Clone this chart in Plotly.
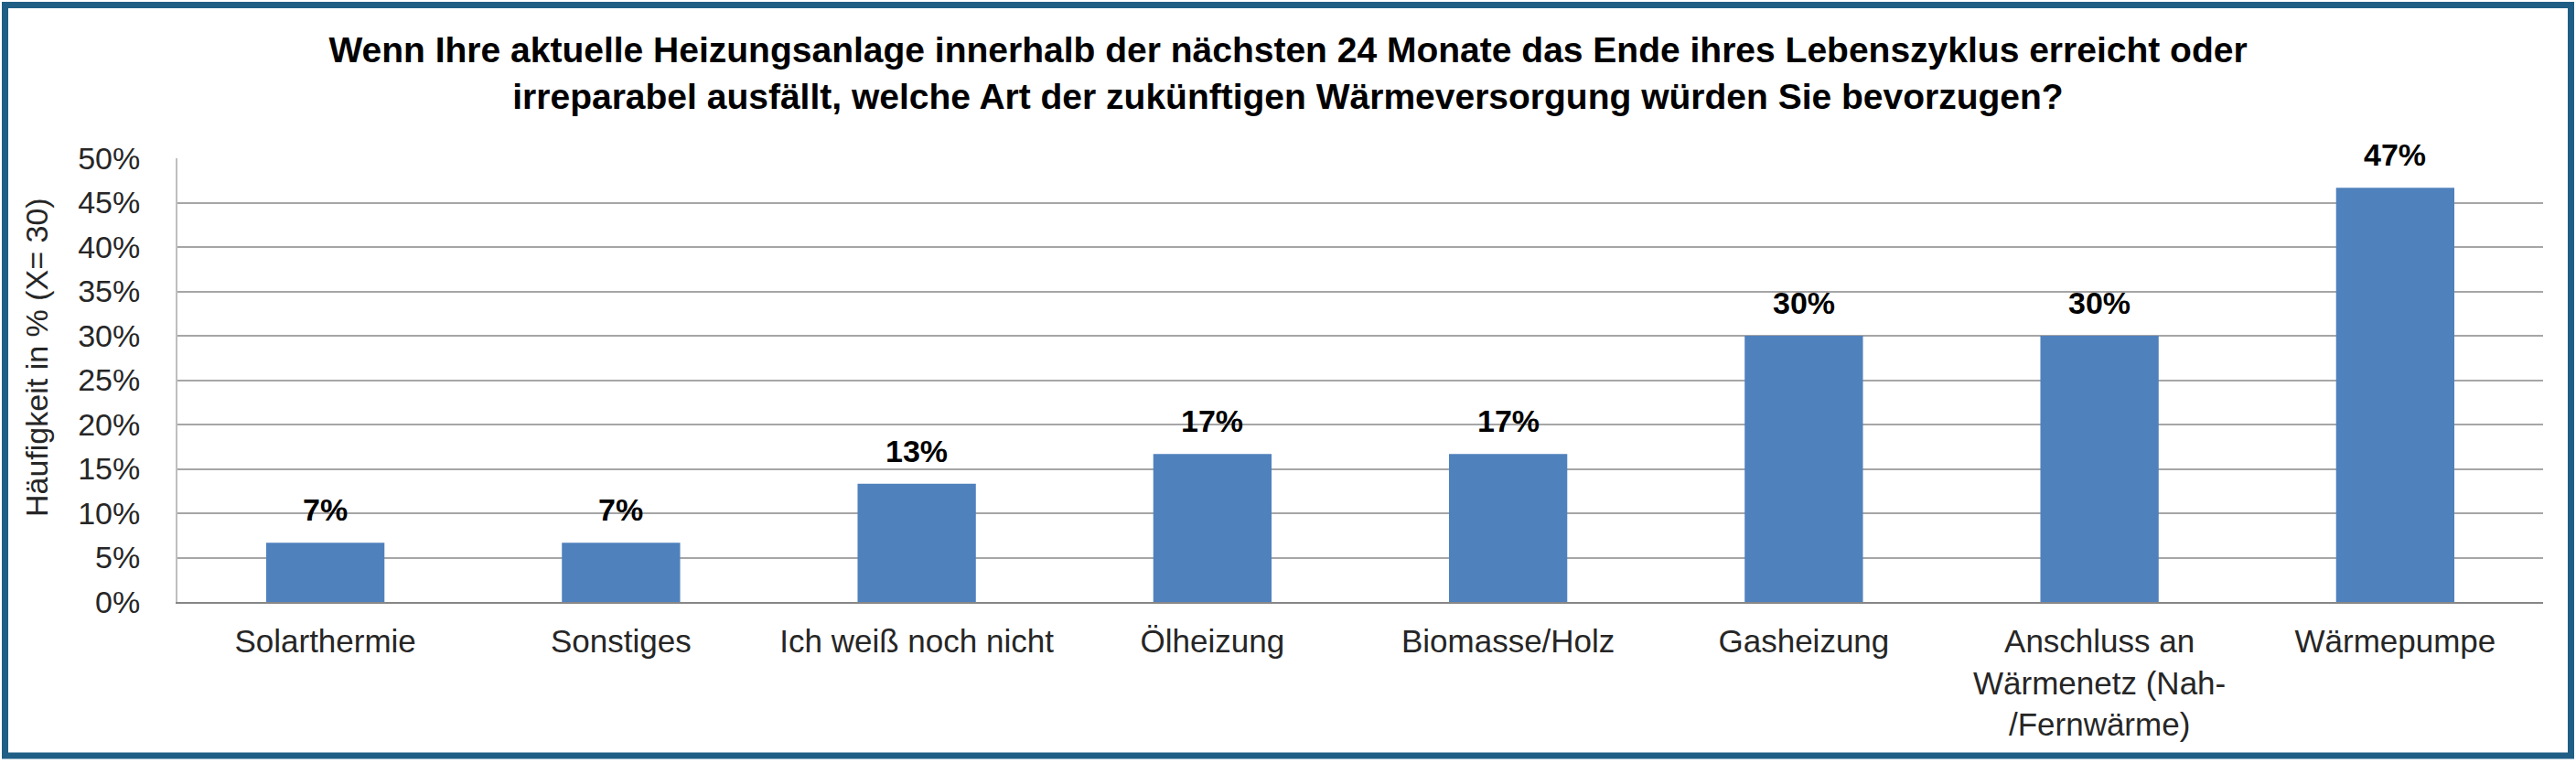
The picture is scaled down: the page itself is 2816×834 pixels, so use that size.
import plotly.graph_objects as go

categories = [
    "Solarthermie",
    "Sonstiges",
    "Ich weiß noch nicht",
    "Ölheizung",
    "Biomasse/Holz",
    "Gasheizung",
    "Anschluss an<br>Wärmenetz (Nah-<br>/Fernwärme)",
    "Wärmepumpe",
]
values = [0.0667, 0.0667, 0.1333, 0.1667, 0.1667, 0.30, 0.30, 0.4667]
labels = ["7%", "7%", "13%", "17%", "17%", "30%", "30%", "47%"]
y_ticks = [0, 0.05, 0.10, 0.15, 0.20, 0.25, 0.30, 0.35, 0.40, 0.45, 0.50]

title_text = ("Wenn Ihre aktuelle Heizungsanlage innerhalb der nächsten 24 Monate das Ende ihres Lebenszyklus erreicht oder<br>"
              "irreparabel ausfällt, welche Art der zukünftigen Wärmeversorgung würden Sie bevorzugen?")
y_title = "Häufigkeit in % (X= 30)"

W, H = 2816, 834
ML, MR, MT, MB = 194, 36, 173, 176
PW = W - ML - MR
PH = H - MT - MB

FONT = "Liberation Sans, Arial, sans-serif"
BAR = "#4F81BD"

fig = go.Figure()
fig.add_trace(go.Bar(x=categories, y=values, marker=dict(color=BAR, line=dict(width=0)),
                     hoverinfo="skip"))

for c, v, t in zip(categories, values, labels):
    fig.add_annotation(x=c, y=v, text="<b>%s</b>" % t, showarrow=False, yanchor="middle",
                       yshift=36, font=dict(family=FONT, size=34, color="#000000"))

def px2x(px):
    return (px - ML) / PW

def py2y(py):
    return (H - MB - py) / PH

# y axis title as annotation
fig.add_annotation(xref="paper", yref="paper", x=px2x(40), y=py2y(391), text=y_title,
                   textangle=-90, showarrow=False, xanchor="center", yanchor="middle",
                   font=dict(family=FONT, size=34, color="#262626"))

# outer frame
fig.add_shape(type="rect", xref="paper", yref="paper",
              x0=px2x(5.5), x1=px2x(W - 5.5), y0=py2y(H - 8), y1=py2y(5.5),
              line=dict(color="#1F5F86", width=7), fillcolor="rgba(0,0,0,0)", layer="above")

fig.update_layout(
    width=W, height=H,
    margin=dict(l=ML, r=MR, t=MT, b=MB, pad=0),
    paper_bgcolor="white", plot_bgcolor="white",
    showlegend=False,
    bargap=0.6,
    title=dict(text="<b>%s</b>" % title_text, x=0.5, xref="container", xanchor="center",
               y=1 - 68 / H, yref="container", yanchor="middle",
               font=dict(family=FONT, size=39, color="#000000")),
    xaxis=dict(showline=True, linecolor="#878787", linewidth=2, showgrid=False,
               ticks="", ticklabelstandoff=11,
               tickfont=dict(family=FONT, size=35, color="#262626")),
    yaxis=dict(range=[0, 0.5], tickvals=y_ticks, tickformat=".0%",
               showline=True, linecolor="#BFBFBF", linewidth=2,
               showgrid=True, gridcolor="#A6A6A6", gridwidth=2, zeroline=False,
               ticks="", ticklabelstandoff=32,
               tickfont=dict(family=FONT, size=34, color="#262626")),
)

fig.write_html("out.html", config={"displayModeBar": False},
               post_script="document.body.style.margin='0';document.body.style.overflow='hidden';")
